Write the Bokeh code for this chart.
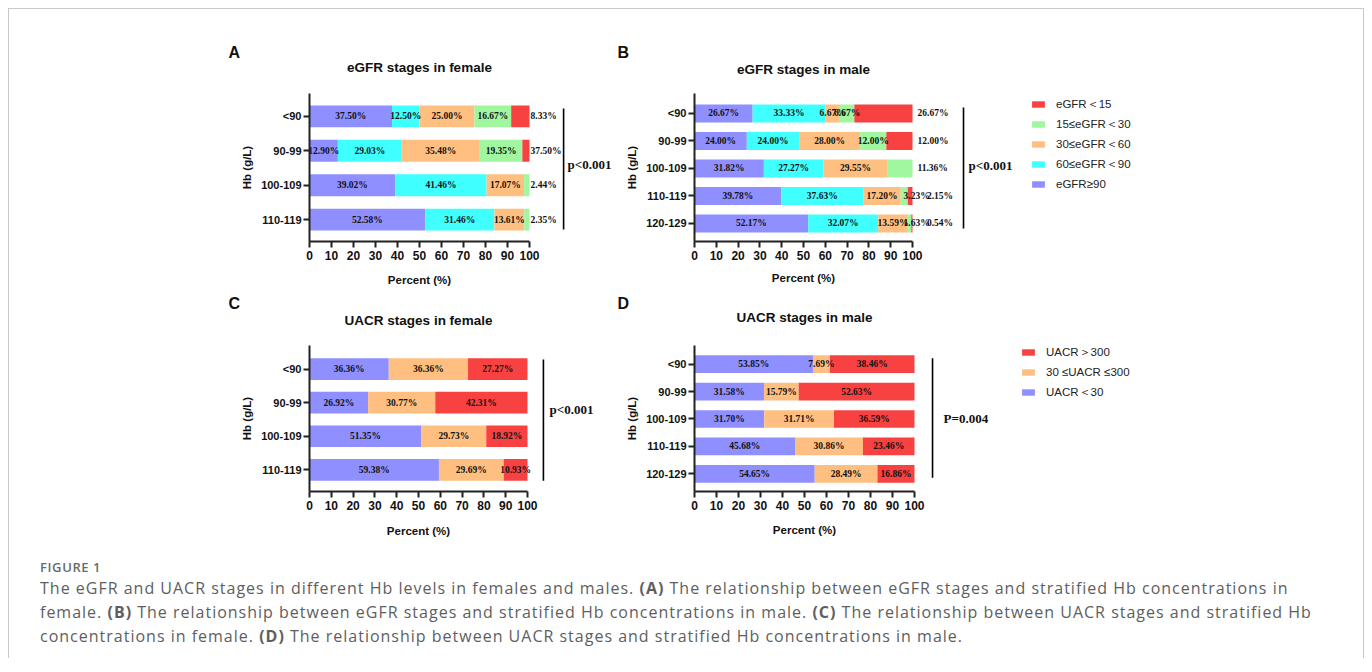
from bokeh.plotting import figure
from bokeh.models import Range1d, FixedTicker, Legend, LegendItem, ColumnDataSource, Spacer, Div
from bokeh.layouts import row, column
from bokeh.core.properties import value
from bokeh.embed import file_html
from bokeh.resources import INLINE

# ---------------- data ----------------
hb_f = ["<90", "90-99", "100-109", "110-119"]
hb_m = ["<90", "90-99", "100-109", "110-119", "120-129"]

egfr_names = ["eGFR≥90", "60≤eGFR＜90", "30≤eGFR＜60", "15≤eGFR＜30", "eGFR＜15"]
# female eGFR (%)
egfr90_f = [37.50, 12.90, 39.02, 52.58]
egfr60_f = [12.50, 29.03, 41.46, 31.46]
egfr30_f = [25.00, 35.48, 17.07, 13.61]
egfr15_f = [16.67, 19.35, 2.44, 2.35]
egfr0_f = [8.33, 3.24, 0.0, 0.0]
egfr_f_label_fix = {(1, 4): "37.50%"}   # label as printed in the original figure
# male eGFR (%)
egfr90_m = [26.67, 24.00, 31.82, 39.78, 52.17]
egfr60_m = [33.33, 24.00, 27.27, 37.63, 32.07]
egfr30_m = [6.67, 28.00, 29.55, 17.20, 13.59]
egfr15_m = [6.67, 12.00, 11.36, 3.23, 1.63]
egfr0_m = [26.67, 12.00, 0.0, 2.15, 0.54]

uacr_names = ["UACR＜30", "30 ≤UACR ≤300", "UACR＞300"]
uacr30_f = [36.36, 26.92, 51.35, 59.38]
uacr300_f = [36.36, 30.77, 29.73, 29.69]
uacrhi_f = [27.27, 42.31, 18.92, 10.93]
uacr30_m = [53.85, 31.58, 31.70, 45.68, 54.65]
uacr300_m = [7.69, 15.79, 31.71, 30.86, 28.49]
uacrhi_m = [38.46, 52.63, 36.59, 23.46, 16.86]

x_ticks = list(range(0, 101, 10))

PURPLE, CYAN, ORANGE, GREEN, RED = "#8f8fff", "#40ffff", "#ffbf80", "#a0f7a0", "#f84141"
egfr_colors = [PURPLE, CYAN, ORANGE, GREEN, RED]
uacr_colors = [PURPLE, ORANGE, RED]

SANS = "Liberation Sans"
SERIF = "Liberation Serif"
INK = "#111111"
FULL_W = 1354
OX, OY = 9, 9   # page position of the container content


def panel(rows, names, colors, series, cfg):
    n = len(rows)
    ys = [n - i for i in range(n)]
    p = figure(width=cfg["w"], height=cfg["h"], output_backend="svg", toolbar_location=None,
               x_range=Range1d(0, cfg["xend"]), y_range=Range1d(*cfg["yr"]),
               min_border_left=cfg["mbl"], min_border_right=0,
               min_border_top=cfg["mbt"], min_border_bottom=cfg["mbb"])
    p.outline_line_color = None
    p.xgrid.visible = False
    p.ygrid.visible = False

    data = {"y": ys}
    keys = []
    for k, s in enumerate(series):
        key = "s%d" % k
        keys.append(key)
        data[key] = s
    src = ColumnDataSource(data)
    rends = p.hbar_stack(keys, y="y", height=cfg["bh"], color=colors, line_color=None, source=src)

    # segment labels
    cx, cy, ct = [], [], []
    lx, ly, lt = [], [], []
    for i in range(n):
        vals = [s[i] for s in series]
        nz = [k for k, v in enumerate(vals) if v > 0]
        last = nz[-1]
        left = 0.0
        for k, v in enumerate(vals):
            if v <= 0:
                continue
            txt = cfg.get("fix", {}).get((i, k), "%.2f%%" % v)
            mode = cfg["mode"]
            if mode == "A" and k == last:
                lx.append(100.5); ly.append(ys[i]); lt.append(txt)
            elif mode == "B" and k == last:
                small_prev = len(nz) > 1 and vals[nz[-2]] < 5
                lx.append(106.6 if small_prev else 102.3); ly.append(ys[i]); lt.append(txt)
            elif mode == "B" and v < 5:
                lx.append(95.9); ly.append(ys[i]); lt.append(txt)
            else:
                cx.append(left + v / 2); cy.append(ys[i]); ct.append(txt)
            left += v
    tstyle = dict(text_font=value(SERIF), text_font_style="bold", text_font_size="9.5px",
                  text_color=INK, text_baseline="middle")
    p.text(x=cx, y=cy, text=ct, text_align="center", **tstyle)
    p.text(x=lx, y=ly, text=lt, text_align="left", **tstyle)

    # p-value bracket
    bx, by0, by1 = cfg["bracket"]
    p.segment(x0=[bx], y0=[by0], x1=[bx], y1=[by1], line_color="black", line_width=1.6)
    px_, py_ = cfg["pxy"]
    p.text(x=[px_], y=[py_], text=[cfg["ptext"]], text_align="left", text_baseline="middle",
           text_font=value(SERIF), text_font_style="bold", text_font_size="13px", text_color=INK)

    # axes
    xa = p.xaxis[0]
    xa.ticker = FixedTicker(ticks=x_ticks)
    xa.bounds = (0, 100)
    ya = p.yaxis[0]
    ya.ticker = FixedTicker(ticks=ys)
    ya.major_label_overrides = {y: r for y, r in zip(ys, rows)}
    ya.axis_label = "Hb (g/L)"
    for ax in (xa, ya):
        ax.axis_line_width = 2
        ax.axis_line_color = "#222222"
        ax.major_tick_line_width = 2
        ax.major_tick_line_color = "#222222"
        ax.major_tick_out = 6
        ax.major_tick_in = 0
        ax.minor_tick_line_color = None
        ax.major_label_text_font = SANS
        ax.major_label_text_font_style = "bold"
        ax.major_label_text_color = INK
        ax.axis_label_text_font = SANS
        ax.axis_label_text_font_style = "bold"
        ax.axis_label_text_font_size = "11.5px"
        ax.axis_label_text_color = INK
    xa.major_label_text_font_size = "12px"
    xa.major_label_standoff = 3
    ya.major_label_text_font_size = "11px"
    ya.major_label_standoff = 2
    ya.axis_label_standoff = 5

    if cfg.get("legend"):
        items = [LegendItem(label=value(nm), renderers=[r]) for nm, r in zip(names, rends)][::-1]
        leg = Legend(items=items, location=cfg["legend"], orientation="vertical",
                     glyph_width=16, glyph_height=8, label_height=20, spacing=0, padding=0, margin=0,
                     border_line_color=None, background_fill_alpha=0, label_standoff=10,
                     label_text_font=SANS, label_text_font_size="11.5px", label_text_color="#222222")
        p.add_layout(leg)
    return p


def strip(h, texts):
    s = figure(width=FULL_W, height=h, output_backend="svg", toolbar_location=None,
               x_range=Range1d(0, FULL_W), y_range=Range1d(h, 0),
               x_axis_type=None, y_axis_type=None,
               min_border_left=0, min_border_right=0, min_border_top=0, min_border_bottom=0)
    s.outline_line_color = None
    s.xgrid.visible = False
    s.ygrid.visible = False
    for (x, y, t, size, align) in texts:
        s.text(x=[x], y=[y], text=[t], text_align=align, text_baseline="middle",
               text_font=value(SANS), text_font_style="bold", text_font_size=size, text_color=INK)
    return s


# panel geometry in page pixels: frame left, px per percent
A_L, A_K = 309, 2.2
B_L, B_K = 694, 2.18
C_L, C_K = 309, 2.18
D_L, D_K = 694, 2.2

pA = panel(hb_f, egfr_names, egfr_colors, [egfr90_f, egfr60_f, egfr30_f, egfr15_f, egfr0_f],
           dict(w=395, h=185, mbl=89, mbt=11, mbb=25, xend=306 / A_K, yr=(0.365, 4.663), bh=0.635,
                bracket=(115.5, 4.23, 0.71), pxy=(117.3, 2.6), ptext="p<0.001",
                mode="A", fix=egfr_f_label_fix))
pB = panel(hb_m, egfr_names, egfr_colors, [egfr90_m, egfr60_m, egfr30_m, egfr15_m, egfr0_m],
           dict(w=748, h=185, mbl=79, mbt=12, mbb=25, xend=669 / B_K, yr=(0.345, 5.727), bh=0.655,
                bracket=(123.4, 5.22, 0.82), pxy=(125.7, 3.11), ptext="p<0.001",
                mode="B", legend=(336, 47)))
pC = panel(hb_f, uacr_names, uacr_colors, [uacr30_f, uacr300_f, uacrhi_f],
           dict(w=395, h=185, mbl=89, mbt=13, mbb=24, xend=306 / C_K, yr=(0.353, 4.706), bh=0.647,
                bracket=(107.3, 4.29, 0.676), pxy=(110.1, 2.79), ptext="p<0.001",
                mode="C"))
pD = panel(hb_m, uacr_names, uacr_colors, [uacr30_m, uacr300_m, uacrhi_m],
           dict(w=748, h=185, mbl=79, mbt=10, mbb=26, xend=669 / D_K, yr=(0.357, 5.679), bh=0.643,
                bracket=(108.2, 5.21, 0.857), pxy=(113.2, 3.0), ptext="P=0.004",
                mode="C", legend=(326, 89)))


def cx(L, K):
    return L + 50 * K - OX


T1 = 9      # page y of top strip
top = strip(72, [
    (228 - OX, 52 - T1, "A", "16px", "left"),
    (617 - OX, 52 - T1, "B", "16px", "left"),
    (cx(A_L, A_K), 67 - T1, "eGFR stages in female", "13.5px", "center"),
    (cx(B_L, B_K), 69 - T1, "eGFR stages in male", "13.5px", "center"),
])
T2 = 266
mid = strip(66, [
    (cx(A_L, A_K), 279 - T2, "Percent (%)", "11.5px", "center"),
    (cx(B_L, B_K), 277 - T2, "Percent (%)", "11.5px", "center"),
    (228 - OX, 303 - T2, "C", "16px", "left"),
    (617 - OX, 303 - T2, "D", "16px", "left"),
    (cx(C_L, C_K), 320 - T2, "UACR stages in female", "13.5px", "center"),
    (cx(D_L, D_K), 317 - T2, "UACR stages in male", "13.5px", "center"),
])
T3 = 517
bot = strip(28, [
    (cx(C_L, C_K), 530 - T3, "Percent (%)", "11.5px", "center"),
    (cx(D_L, D_K), 529 - T3, "Percent (%)", "11.5px", "center"),
])

caption_lines = [
    "The eGFR and UACR stages in different Hb levels in females and males. <b>(A)</b> The relationship between eGFR stages and stratified Hb concentrations in",
    "female. <b>(B)</b> The relationship between eGFR stages and stratified Hb concentrations in male. <b>(C)</b> The relationship between UACR stages and stratified Hb",
    "concentrations in female. <b>(D)</b> The relationship between UACR stages and stratified Hb concentrations in male.",
]
cap_html = (
    "<div style=\"font-family:'Open Sans',sans-serif;color:#5e5e5e;padding-left:31px;padding-top:13px;white-space:nowrap\">"
    "<div style='font-size:13px;font-weight:600;letter-spacing:0.6px;line-height:18px;color:#6a6a6a'>FIGURE 1</div>"
    "<div style='font-size:16px;line-height:24px;letter-spacing:1px'>" + "<br>".join(caption_lines) + "</div></div>"
)
cap = Div(text=cap_html, width=FULL_W, height=113, margin=(0, 0, 0, 0))

layout = column(
    top,
    row(Spacer(width=211, height=185), pA, pB),
    mid,
    row(Spacer(width=211, height=185), pC, pD),
    bot,
    cap,
    margin=(8, 0, 0, 8),
    styles={"border-left": "1px solid #c8c8c8", "border-top": "1px solid #c8c8c8",
            "border-right": "1px solid #c8c8c8"},
)

open("out.html", "w").write(file_html(layout, INLINE))
